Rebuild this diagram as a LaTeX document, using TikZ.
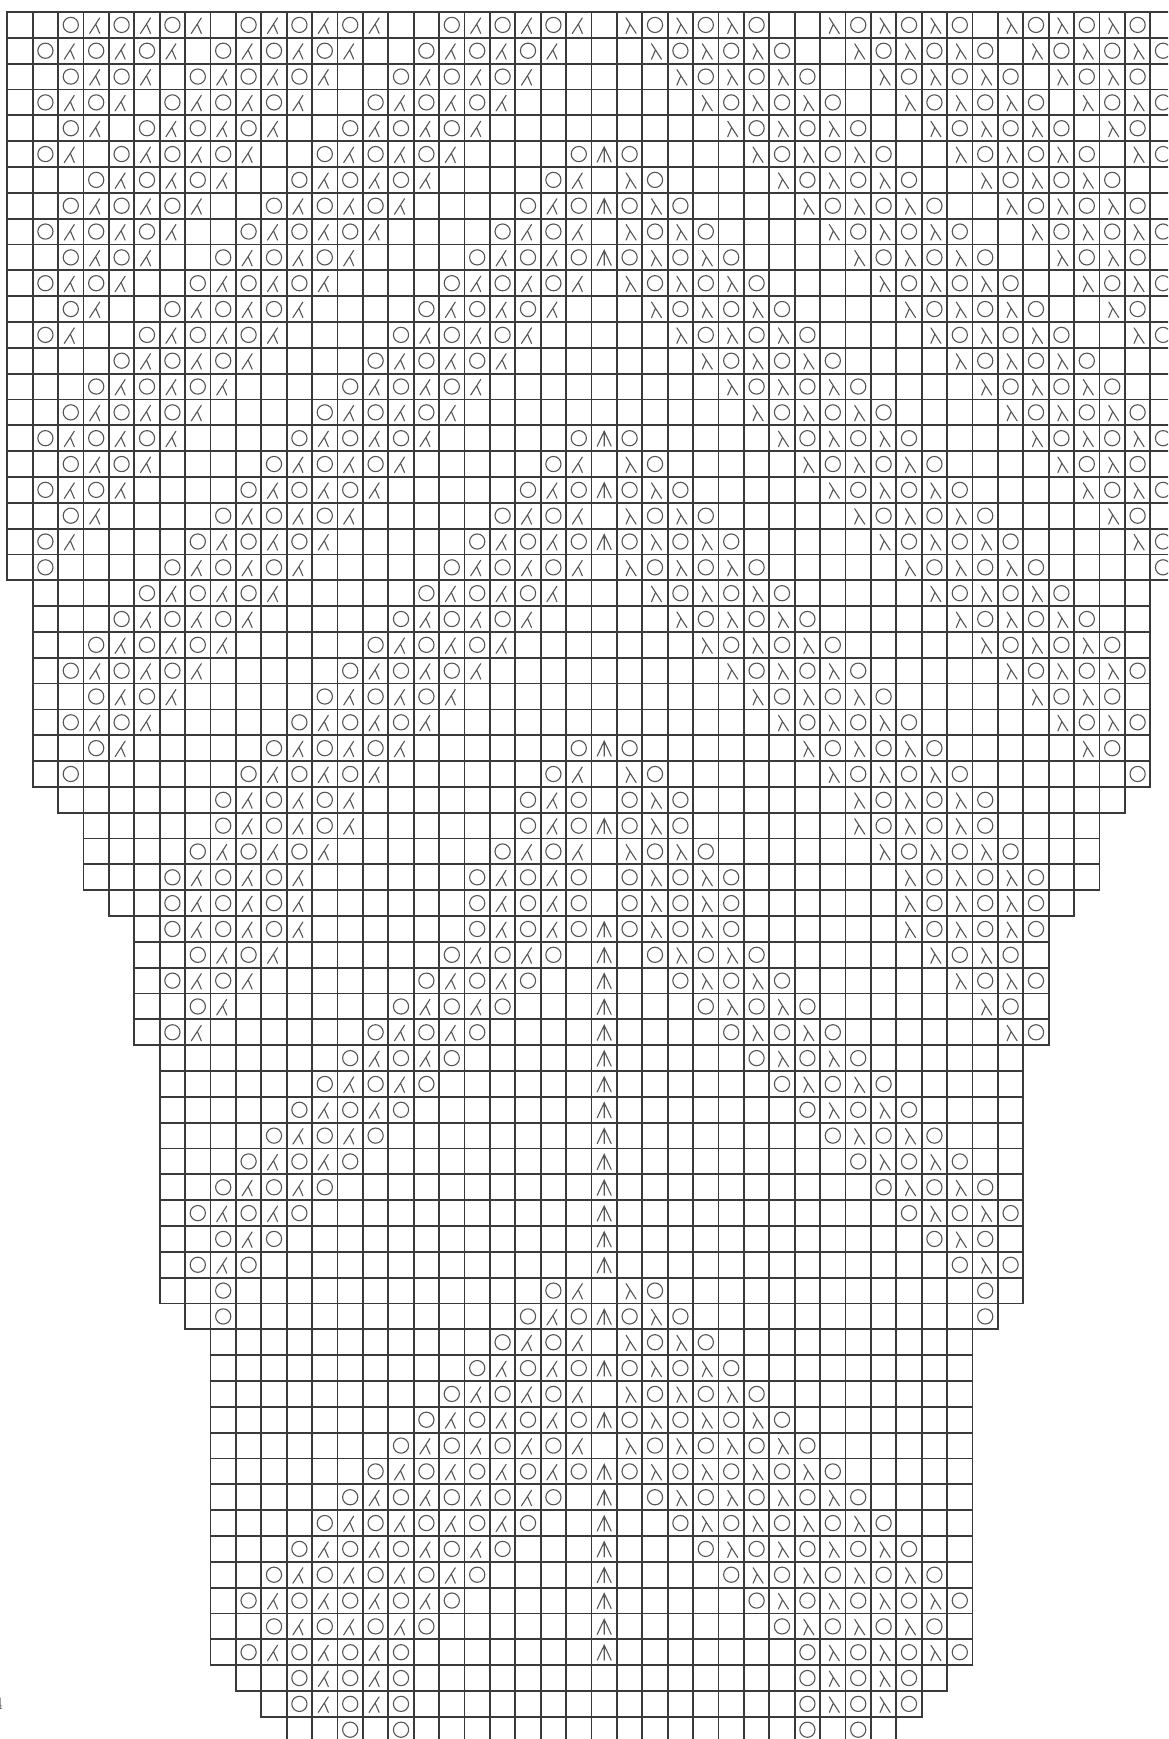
\documentclass[tikz,border=0pt]{standalone}
\definecolor{gridc}{RGB}{58,58,58}
\definecolor{symc}{RGB}{85,85,85}
\tikzset{
  gridline/.style={draw=gridc, line width=0.9pt, line cap=rect},
  symline/.style={draw=symc, line width=0.55pt, line cap=round},
  symO/.pic={\draw[symline] (0,0) circle[radius=3.8pt];},
  symL/.pic={\draw[symline] (3.5,-7) -- (-6.5,8.5) (-0.5,-0.8) -- (3.5,8.5);},
  symR/.pic={\draw[symline] (-3.5,-7) -- (6.5,8.5) (0.5,-0.8) -- (-3.5,8.5);},
  symA/.pic={\draw[symline] (-7,8) -- (0,-7) -- (7,8) (0,-7) -- (0,8);}
}
\newcommand\kprow[2]{\def\kpr{#1}\def\kpc{0}\kpparse#2\kpend}
\def\kpend{\kpend}
\def\kpparse#1{\ifx#1\kpend\else\kpone#1\expandafter\kpparse\fi}
\def\kpone#1{%
  \pgfmathtruncatemacro\kpc{\kpc+1}%
  \pgfmathtruncatemacro\kpm{48-\kpc}%
  \pgfmathsetmacro\kpx{7.3+25.4*(\kpc-0.5)}%
  \pgfmathsetmacro\kpxm{7.3+25.4*(\kpm-0.5)}%
  \pgfmathsetmacro\kpy{12+25.83*(\kpr-0.5)}%
  \ifx#1O\pic at (\kpx,\kpy) {symO};\pic at (\kpxm,\kpy) {symO};\fi
  \ifx#1L\pic at (\kpx,\kpy) {symL};\pic at (\kpxm,\kpy) {symR};\fi
  \ifx#1A\pic at (\kpx,\kpy) {symA};\fi}
\begin{document}
\begin{tikzpicture}[x=0.5pt,y=-0.5pt]
\useasboundingbox (0,0) rectangle (1168,1739);
\fill[white] (0,0) rectangle (1168,1739);
\clip (0,0) rectangle (1168,1739);
% grid outline: first row / last row / first col / last col
\foreach \ra/\rb/\ca/\cb in {1/22/1/47, 23/30/2/45, 31/31/3/44, 32/34/4/43,
  35/35/5/42, 36/40/6/41, 41/50/7/40, 51/51/8/39, 52/64/9/38,
  65/65/10/37, 66/66/11/36, 67/67/12/35}{
  \pgfmathsetmacro\ya{12+25.83*(\ra-1)}
  \pgfmathsetmacro\yb{12+25.83*\rb}
  \pgfmathsetmacro\xa{7.3+25.4*(\ca-1)}
  \pgfmathsetmacro\xb{7.3+25.4*\cb}
  \pgfmathtruncatemacro\rs{\ra-1}
  \pgfmathtruncatemacro\cs{\ca-1}
  \foreach \r in {\rs,...,\rb}{\draw[gridline] (\xa,{12+25.83*\r}) -- (\xb,{12+25.83*\r});}
  \foreach \c in {\cs,...,\cb}{\draw[gridline] ({7.3+25.4*\c},\ya) -- ({7.3+25.4*\c},\yb);}
}
% symbols: left half (cols 1-24), mirrored to the right half
\kprow{1}{..OLOLOL.OLOLOL..OLOLOL.}
\kprow{2}{.OLOLOL.OLOLOL..OLOLOL..}
\kprow{3}{..OLOL.OLOLOL..OLOLOL...}
\kprow{4}{.OLOL.OLOLOL..OLOLOL....}
\kprow{5}{..OL.OLOLOL..OLOLOL.....}
\kprow{6}{.OL.OLOLOL..OLOLOL....OA}
\kprow{7}{...OLOLOL..OLOLOL....OL.}
\kprow{8}{..OLOLOL..OLOLOL....OLOA}
\kprow{9}{.OLOLOL..OLOLOL....OLOL.}
\kprow{10}{..OLOL..OLOLOL....OLOLOA}
\kprow{11}{.OLOL..OLOLOL....OLOLOL.}
\kprow{12}{..OL..OLOLOL....OLOLOL..}
\kprow{13}{.OL..OLOLOL....OLOLOL...}
\kprow{14}{....OLOLOL....OLOLOL....}
\kprow{15}{...OLOLOL....OLOLOL.....}
\kprow{16}{..OLOLOL....OLOLOL......}
\kprow{17}{.OLOLOL....OLOLOL.....OA}
\kprow{18}{..OLOL....OLOLOL.....OL.}
\kprow{19}{.OLOL....OLOLOL.....OLOA}
\kprow{20}{..OL....OLOLOL.....OLOL.}
\kprow{21}{.OL....OLOLOL.....OLOLOA}
\kprow{22}{.O....OLOLOL.....OLOLOL.}
\kprow{23}{x....OLOLOL.....OLOLOL..}
\kprow{24}{x...OLOLOL.....OLOLOL...}
\kprow{25}{x..OLOLOL.....OLOLOL....}
\kprow{26}{x.OLOLOL.....OLOLOL.....}
\kprow{27}{x..OLOL.....OLOLOL......}
\kprow{28}{x.OLOL.....OLOLOL.......}
\kprow{29}{x..OL.....OLOLOL......OA}
\kprow{30}{x.O......OLOLOL......OL.}
\kprow{31}{xx......OLOLOL......OLO.}
\kprow{32}{xxx.....OLOLOL......OLOA}
\kprow{33}{xxx....OLOLOL......OLOL.}
\kprow{34}{xxx...OLOLOL......OLOLO.}
\kprow{35}{xxxx..OLOLOL......OLOLO.}
\kprow{36}{xxxxx.OLOLOL......OLOLOA}
\kprow{37}{xxxxx..OLOL......OLOLO.A}
\kprow{38}{xxxxx.OLOL......OLOLO..A}
\kprow{39}{xxxxx..OL......OLOLO...A}
\kprow{40}{xxxxx.OL......OLOLO....A}
\kprow{41}{xxxxxx.......OLOLO.....A}
\kprow{42}{xxxxxx......OLOLO......A}
\kprow{43}{xxxxxx.....OLOLO.......A}
\kprow{44}{xxxxxx....OLOLO........A}
\kprow{45}{xxxxxx...OLOLO.........A}
\kprow{46}{xxxxxx..OLOLO..........A}
\kprow{47}{xxxxxx.OLOLO...........A}
\kprow{48}{xxxxxx..OLO............A}
\kprow{49}{xxxxxx.OLO.............A}
\kprow{50}{xxxxxx..O............OL.}
\kprow{51}{xxxxxxx.O...........OLOA}
\kprow{52}{xxxxxxxx...........OLOL.}
\kprow{53}{xxxxxxxx..........OLOLOA}
\kprow{54}{xxxxxxxx.........OLOLOL.}
\kprow{55}{xxxxxxxx........OLOLOLOA}
\kprow{56}{xxxxxxxx.......OLOLOLOL.}
\kprow{57}{xxxxxxxx......OLOLOLOLOA}
\kprow{58}{xxxxxxxx.....OLOLOLOLO.A}
\kprow{59}{xxxxxxxx....OLOLOLOLO..A}
\kprow{60}{xxxxxxxx...OLOLOLOLO...A}
\kprow{61}{xxxxxxxx..OLOLOLOLO....A}
\kprow{62}{xxxxxxxx.OLOLOLOLO.....A}
\kprow{63}{xxxxxxxx..OLOLOLO......A}
\kprow{64}{xxxxxxxx.OLOLOLO.......A}
\kprow{65}{xxxxxxxxx..OLOLO........}
\kprow{66}{xxxxxxxxxx.OLOLO........}
\kprow{67}{xxxxxxxxxxx..O.O........}
\node[font=\fontsize{8.5}{9}\selectfont, text=gridc, anchor=east, inner sep=0pt] (numlbl) at (3.2,1704) {4};
\end{tikzpicture}
\end{document}
